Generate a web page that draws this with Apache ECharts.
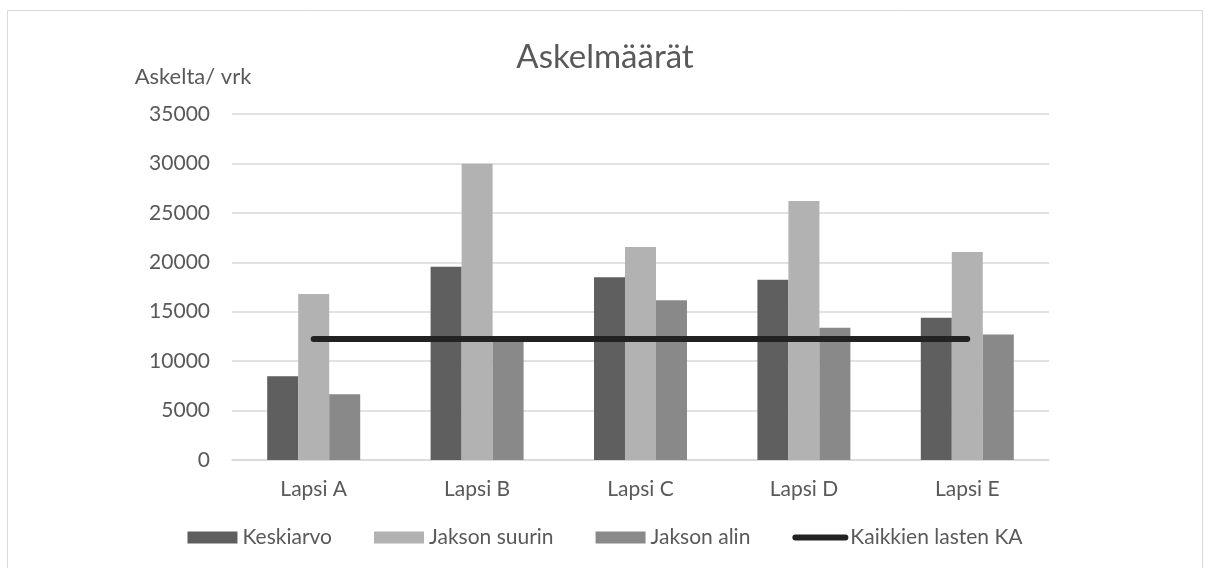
<!DOCTYPE html>
<html><head><meta charset="utf-8">
<script src="https://cdn.jsdelivr.net/npm/echarts@6/dist/echarts.min.js"></script>
<style>html,body{margin:0;padding:0;background:#fff}#c{width:1210px;height:568px}</style>
</head><body><div id="c"></div>
<script>
const categories = ['Lapsi A','Lapsi B','Lapsi C','Lapsi D','Lapsi E'];
const keskiarvo = [8480, 19560, 18480, 18240, 14390];
const jaksonSuurin = [16790, 29970, 21550, 26200, 21050];
const jaksonAlin = [6650, 12000, 16150, 13380, 12700];
const kaikkienKA = [12230, 12230, 12230, 12230, 12230];
const yTicks = [0, 5000, 10000, 15000, 20000, 25000, 30000, 35000];

const FONT = 'Lato';
const chart = echarts.init(document.getElementById('c'), null, {renderer:'canvas'});
chart.setOption({
  animation:false,
  textStyle:{fontFamily:FONT},
  graphic:[{type:'rect', shape:{x:7.5,y:10.5,width:1195,height:570}, style:{fill:'none',stroke:'#d9d9d9',lineWidth:1}, silent:true}],
  title:{text:'Askelmäärät', left:'center', top:36, textStyle:{fontFamily:FONT,fontSize:33,fontWeight:'normal',color:'#595959'}},
  legend:{
    bottom:15, left:'center', itemWidth:50, itemHeight:12, itemGap:42,
    textStyle:{fontFamily:FONT,fontSize:21,color:'#595959'},
    data:[
      {name:'Keskiarvo', icon:'rect'},
      {name:'Jakson suurin', icon:'rect'},
      {name:'Jakson alin', icon:'rect'},
      {name:'Kaikkien lasten KA', itemStyle:{opacity:0}, lineStyle:{width:6, cap:'round', color:'#222222'}}
    ]
  },
  grid:{left:232, right:161, top:114, bottom:108, containLabel:false},
  xAxis:{
    type:'category', data:categories,
    axisLine:{lineStyle:{color:'#d9d9d9',width:1.5}},
    axisTick:{show:false},
    axisLabel:{fontFamily:FONT,fontSize:21,color:'#595959',margin:19}
  },
  yAxis:{
    type:'value', min:yTicks[0], max:yTicks[yTicks.length-1], interval:5000,
    name:'Askelta/ vrk', nameLocation:'end', nameGap:37,
    nameTextStyle:{fontFamily:FONT,fontSize:22,color:'#595959',align:'center',verticalAlign:'middle',padding:[0,78,0,0]},
    axisLine:{show:false}, axisTick:{show:false},
    axisLabel:{fontFamily:FONT,fontSize:21,color:'#595959',margin:22,formatter:function(v){return String(v);}},
    splitLine:{lineStyle:{color:'#d9d9d9',width:1.5}}
  },
  series:[
    {name:'Keskiarvo', type:'bar', data:keskiarvo, barWidth:31, barGap:'0%', itemStyle:{color:'#5f5f5f'}},
    {name:'Jakson suurin', type:'bar', data:jaksonSuurin, barWidth:31, barGap:'0%', itemStyle:{color:'#b2b2b2'}},
    {name:'Jakson alin', type:'bar', data:jaksonAlin, barWidth:31, barGap:'0%', itemStyle:{color:'#898989'}},
    {name:'Kaikkien lasten KA', type:'line', data:kaikkienKA, symbol:'none', lineStyle:{color:'#222222',width:6,cap:'round'}, itemStyle:{color:'#222222'}, z:5}
  ]
});
</script></body></html>
